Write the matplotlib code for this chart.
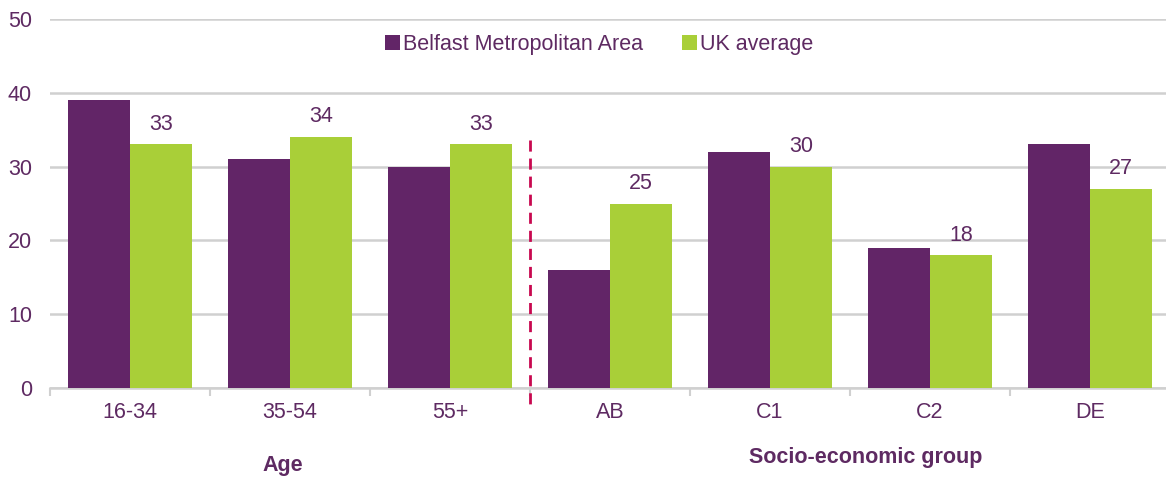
import numpy as np
import matplotlib.pyplot as plt

plt.rcParams['font.family'] = ['Liberation Sans', 'DejaVu Sans']

categories = ['16-34', '35-54', '55+', 'AB', 'C1', 'C2', 'DE']
belfast = [39, 31, 30, 16, 32, 19, 33]
uk_avg = [33, 34, 33, 25, 30, 18, 27]
series_names = ['Belfast Metropolitan Area', 'UK average']

purple = '#622567'
green = '#A9CF38'
txt = '#5E2A62'
grid_c = '#D0D0D0'
fs = 15.5

fig = plt.figure(figsize=(11.66, 4.78), dpi=100)
W, H = 1166, 478
ax = fig.add_axes([50 / W, 90 / H, 1120 / W, 369 / H])

x = np.arange(len(categories))
bw = 0.385
ax.bar(x - bw / 2, belfast, bw, color=purple, label=series_names[0], zorder=3)
b2 = ax.bar(x + bw / 2, uk_avg, bw, color=green, label=series_names[1], zorder=3)
# labels only on the UK series
for rect, v in zip(b2, uk_avg):
    ax.text(rect.get_x() + rect.get_width() / 2, v + 1.3, str(v),
            ha='center', va='bottom', fontsize=fs, color=txt)

ax.set_xlim(-0.5, len(categories) - 0.5)
ax.set_ylim(0, 50)
ax.set_yticks(range(0, 51, 10))
ax.yaxis.grid(True, color=grid_c, linewidth=1.8, zorder=0)
ax.set_axisbelow(True)
for s in ['top', 'right', 'left']:
    ax.spines[s].set_visible(False)
ax.spines['bottom'].set_color(grid_c)
ax.spines['bottom'].set_linewidth(1.8)

ax.set_xticks(x)
ax.set_xticklabels(categories)
ax.set_xticks(np.arange(-0.5, len(categories), 1), minor=True)
ax.tick_params(axis='x', which='major', length=0, pad=10, labelsize=fs, labelcolor=txt)
ax.tick_params(axis='x', which='minor', length=6, width=1.5, color=grid_c)
ax.tick_params(axis='y', length=0, pad=13, labelsize=fs, labelcolor=txt)

# divider between the two groups
ax.plot([2.5, 2.5], [33.6, -2.3], color='#C8084F', linewidth=2,
        linestyle=(0, (4, 2.5)), clip_on=False, zorder=4)

leg = ax.legend(loc='center', bbox_to_anchor=(0.49, 0.93), ncol=2, frameon=False,
                fontsize=fs, handlelength=0.7, handleheight=0.7,
                handletextpad=0.15, columnspacing=1.8)
for t in leg.get_texts():
    t.set_color(txt)

fig.text(283 / W, 1 - 466 / H, 'Age', ha='center', va='center',
         fontsize=fs, fontweight='bold', color=txt)
fig.text(866 / W, 1 - 458 / H, 'Socio-economic group', ha='center', va='center',
         fontsize=fs, fontweight='bold', color=txt)

fig.savefig('out.png', dpi=100)
